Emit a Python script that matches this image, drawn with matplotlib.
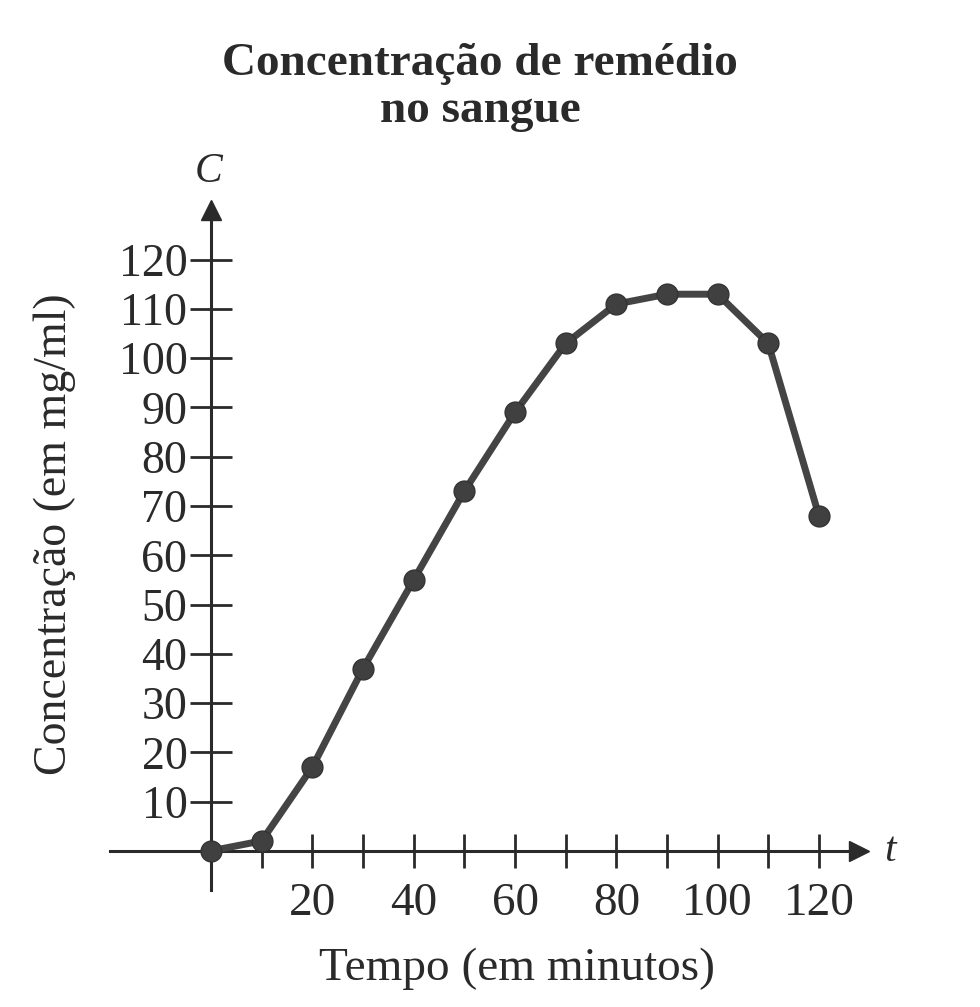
import matplotlib.pyplot as plt

# tempo (min) e concentração (mg/ml)
tempo = [0, 10, 20, 30, 40, 50, 60, 70, 80, 90, 100, 110, 120]
concentracao = [0, 2, 17, 37, 55, 73, 89, 103, 111, 113, 113, 103, 68]

x_ticks = [10, 20, 30, 40, 50, 60, 70, 80, 90, 100, 110, 120]
x_labels = ['', '20', '', '40', '', '60', '', '80', '', '100', '', '120']
y_ticks = [10, 20, 30, 40, 50, 60, 70, 80, 90, 100, 110, 120]

plt.rcParams['font.family'] = ['Liberation Serif', 'DejaVu Serif']
ink = '#2a2a2a'

fig = plt.figure(figsize=(9.8, 10.07), dpi=100)
ax = fig.add_axes([0.112, 0.116, 0.765, 0.675])
ax.set_xlim(-20, 128)
ax.set_ylim(-8, 130)

ax.plot(tempo, concentracao, color='#444444', linewidth=5, marker='o',
        markersize=15, markerfacecolor='#404040', markeredgecolor='#333333',
        zorder=5, clip_on=False)

# eixos passando pela origem
for s in ['top', 'right']:
    ax.spines[s].set_visible(False)
ax.spines['left'].set_position(('data', 0))
ax.spines['bottom'].set_position(('data', 0))
ax.spines['left'].set_linewidth(2.2)
ax.spines['bottom'].set_linewidth(2.2)
ax.spines['left'].set_color(ink)
ax.spines['bottom'].set_color(ink)

# setas
ax.plot(1, 0, '>', color=ink, markersize=14, transform=ax.get_yaxis_transform(), clip_on=False)
ax.plot(0, 1, '^', color=ink, markersize=14, transform=ax.get_xaxis_transform(), clip_on=False)

ax.set_xticks(x_ticks)
ax.set_xticklabels(x_labels, fontsize=34)
ax.set_yticks(y_ticks)
ax.set_yticklabels([str(v) for v in y_ticks], fontsize=33)
ax.tick_params(axis='x', direction='inout', length=25, width=2, colors=ink, pad=10)
ax.tick_params(axis='y', direction='inout', length=30, width=2, colors=ink, pad=2)

ax.text(-0.5, 134, 'C', fontsize=30, style='italic', ha='center', va='bottom', color=ink)
ax.text(134, 0, 't', fontsize=30, style='italic', ha='center', va='center', color=ink)

fig.text(0.49, 0.913, 'Concentração de remédio\nno sangue', fontsize=34, fontweight='bold',
         ha='center', va='center', linespacing=1.18, color=ink)
fig.text(0.056, 0.47, 'Concentração (em mg/ml)', fontsize=33, rotation=90,
         ha='center', va='center', color=ink)
fig.text(0.528, 0.038, 'Tempo (em minutos)', fontsize=34, ha='center', va='center', color=ink)

fig.savefig('out.png', dpi=100)
